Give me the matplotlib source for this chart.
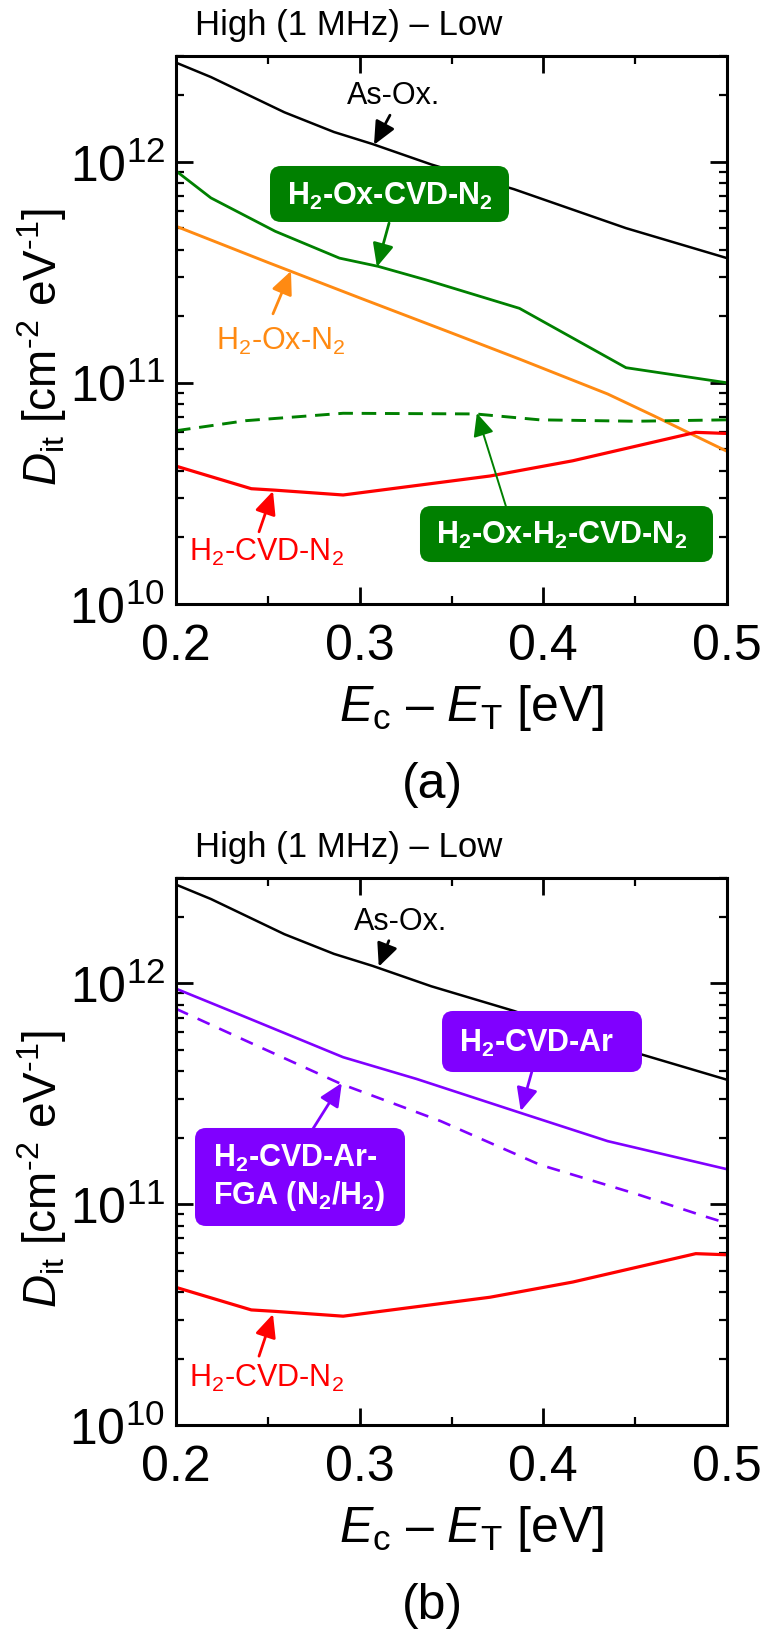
import matplotlib
matplotlib.use("Agg")
import matplotlib.pyplot as plt
from matplotlib.patches import FancyBboxPatch
from matplotlib.ticker import MultipleLocator, LogLocator, NullFormatter

plt.rcParams['font.family'] = ['Liberation Sans', 'DejaVu Sans']
plt.rcParams['mathtext.fontset'] = 'custom'
plt.rcParams['mathtext.rm'] = 'Liberation Sans'
plt.rcParams['mathtext.it'] = 'Liberation Sans:italic'
plt.rcParams['mathtext.bf'] = 'Liberation Sans:bold'

# ---- data (Ec - ET [eV], Dit [cm^-2 eV^-1]) ----
e_asox = [0.2, 0.219, 0.259, 0.286, 0.307, 0.339, 0.384, 0.445, 0.5]
dit_asox = [2.80e12, 2.41e12, 1.67e12, 1.36e12, 1.20e12, 9.7e11, 7.5e11, 5.0e11, 3.66e11]

e_h2ox_cvd = [0.2, 0.219, 0.254, 0.289, 0.310, 0.336, 0.387, 0.445, 0.5]
dit_h2ox_cvd = [9.07e11, 6.85e11, 4.84e11, 3.66e11, 3.36e11, 2.92e11, 2.17e11, 1.17e11, 1.0e11]

e_h2ox_n2 = [0.2, 0.25, 0.3, 0.35, 0.387, 0.435, 0.46, 0.5]
dit_h2ox_n2 = [5.1e11, 3.5e11, 2.42e11, 1.68e11, 1.28e11, 8.9e10, 7.1e10, 4.9e10]

e_h2ox_h2cvd = [0.2, 0.238, 0.291, 0.363, 0.398, 0.45, 0.5]
dit_h2ox_h2cvd = [6.07e10, 6.74e10, 7.28e10, 7.23e10, 6.8e10, 6.7e10, 6.8e10]

e_h2cvd_n2 = [0.2, 0.241, 0.254, 0.291, 0.371, 0.416, 0.483, 0.5]
dit_h2cvd_n2 = [4.2e10, 3.32e10, 3.27e10, 3.11e10, 3.79e10, 4.44e10, 5.97e10, 5.9e10]

e_h2cvd_ar = [0.2, 0.238, 0.291, 0.331, 0.387, 0.435, 0.5]
dit_h2cvd_ar = [9.46e11, 7.03e11, 4.63e11, 3.69e11, 2.60e11, 1.93e11, 1.44e11]

e_fga = [0.2, 0.238, 0.29, 0.344, 0.398, 0.451, 0.488, 0.5]
dit_fga = [7.67e11, 5.5e11, 3.5e11, 2.38e11, 1.51e11, 1.11e11, 8.8e10, 8.2e10]

GREEN = '#008000'
ORANGE = '#FF8A12'
RED = '#FF0000'
PURPLE = '#8000FF'


def style_axes(ax, tag, label_y):
    ax.set_yscale('log')
    ax.set_xlim(0.2, 0.5)
    ax.set_ylim(1e10, 3e12)
    ax.xaxis.set_major_locator(MultipleLocator(0.1))
    ax.xaxis.set_minor_locator(MultipleLocator(0.05))
    ax.yaxis.set_major_locator(LogLocator(base=10))
    ax.yaxis.set_minor_locator(LogLocator(base=10, subs=range(2, 10)))
    ax.yaxis.set_minor_formatter(NullFormatter())
    ax.tick_params(which='both', direction='in', top=True, right=True)
    ax.tick_params(which='major', length=12, width=2.0, labelsize=36)
    ax.tick_params(which='minor', length=6, width=1.6)
    ax.tick_params(axis='x', which='major', pad=14)
    ax.tick_params(axis='y', which='major', pad=8)
    for sp in ax.spines.values():
        sp.set_linewidth(2.2)

    ax.set_xlabel(r'$E_\mathrm{c}$ – $E_\mathrm{T}$ [eV]', fontsize=36, va='center')
    ax.xaxis.set_label_coords(0.537, -0.188)
    ax.set_ylabel(r'$D_\mathrm{it}$ [cm$^{\text{-}2}$ eV$^{\text{-}1}$]', fontsize=33, va='center')
    ax.yaxis.set_label_coords(-0.243, 0.47)

    ax.text(0.314, 1.058, 'High (1 MHz) – Low', transform=ax.transAxes,
            ha='center', va='center', fontsize=25)
    ax.figure.text(432 / 768, label_y, tag, ha='center', va='center', fontsize=36)


def arrow(ax, tail, head, color, lw=2.0):
    ax.annotate('', xy=head, xytext=tail,
                arrowprops=dict(arrowstyle='-|>,head_length=0.7,head_width=0.32',
                                color=color, lw=lw, mutation_scale=20,
                                shrinkA=0, shrinkB=0), zorder=6)


def label_box(ax, x0, y0, x1, y1, color):
    box = FancyBboxPatch((x0, y0), x1 - x0, y1 - y0, transform=ax.transAxes,
                         boxstyle='round,pad=0,rounding_size=0.02',
                         facecolor=color, edgecolor='none', zorder=5)
    ax.add_patch(box)


fig = plt.figure(figsize=(7.68, 16.33), dpi=100)
ax_a = fig.add_axes([176 / 768, 1 - 605 / 1633, 551 / 768, 548 / 1633])
ax_b = fig.add_axes([176 / 768, 1 - 1426 / 1633, 551 / 768, 547 / 1633])

# ---------------- (a) ----------------
ax_a.plot(e_asox, dit_asox, color='black', lw=1.8)
ax_a.plot(e_h2ox_cvd, dit_h2ox_cvd, color=GREEN, lw=2.0)
ax_a.plot(e_h2ox_n2, dit_h2ox_n2, color=ORANGE, lw=2.1)
ax_a.plot(e_h2ox_h2cvd, dit_h2ox_h2cvd, color=GREEN, lw=2.1, dashes=(5, 3))
ax_a.plot(e_h2cvd_n2, dit_h2cvd_n2, color=RED, lw=2.3)
style_axes(ax_a, '(a)', 1 - 785 / 1633)

ax_a.text(0.3187, 2.0e12, 'As-Ox.', ha='center', va='center', fontsize=22)
arrow(ax_a, (0.3165, 1.62e12), (0.3078, 1.19e12), 'black')

label_box(ax_a, 0.1706, 0.6971, 0.6044, 0.7993, GREEN)
ax_a.text(0.3876, 0.745, r'H$_\mathbf{2}$-Ox-CVD-N$_\mathbf{2}$', transform=ax_a.transAxes,
          ha='center', va='center', fontsize=22, fontweight='bold', color='white', zorder=7)
arrow(ax_a, (0.316, 5.27e11), (0.3094, 3.34e11), GREEN)

ax_a.text(0.2571, 1.55e11, r'H$_2$-Ox-N$_2$', ha='center', va='center', fontsize=22, color=ORANGE)
arrow(ax_a, (0.2528, 2.05e11), (0.2626, 3.2e11), ORANGE)

ax_a.text(0.249, 1.72e10, r'H$_2$-CVD-N$_2$', ha='center', va='center', fontsize=22, color=RED)
arrow(ax_a, (0.2452, 2.12e10), (0.2528, 3.24e10), RED)

label_box(ax_a, 0.4428, 0.0766, 0.9746, 0.1788, GREEN)
ax_a.text(0.699, 0.127, r'H$_\mathbf{2}$-Ox-H$_\mathbf{2}$-CVD-N$_\mathbf{2}$', transform=ax_a.transAxes,
          ha='center', va='center', fontsize=22, fontweight='bold', color='white', zorder=7)
arrow(ax_a, (0.3796, 2.77e10), (0.3638, 7.29e10), GREEN, lw=1.4)

# ---------------- (b) ----------------
ax_b.plot(e_asox, dit_asox, color='black', lw=1.8)
ax_b.plot(e_h2cvd_ar, dit_h2cvd_ar, color=PURPLE, lw=1.9)
ax_b.plot(e_fga, dit_fga, color=PURPLE, lw=1.9, dashes=(5, 4))
ax_b.plot(e_h2cvd_n2, dit_h2cvd_n2, color=RED, lw=2.3)
style_axes(ax_b, '(b)', 1 - 1606 / 1633)

ax_b.text(0.3224, 1.92e12, 'As-Ox.', ha='center', va='center', fontsize=22)
arrow(ax_b, (0.3159, 1.56e12), (0.3104, 1.19e12), 'black')

label_box(ax_b, 0.4828, 0.6453, 0.8457, 0.7569, PURPLE)
ax_b.text(0.6552, 0.700, r'H$_\mathbf{2}$-CVD-Ar', transform=ax_b.transAxes,
          ha='center', va='center', fontsize=22, fontweight='bold', color='white', zorder=7)
arrow(ax_b, (0.3937, 3.97e11), (0.3877, 2.64e11), PURPLE)

label_box(ax_b, 0.0345, 0.3638, 0.4156, 0.543, PURPLE)
ax_b.text(0.0672, 0.4534, 'H$_\\mathbf{2}$-CVD-Ar-\nFGA (N$_\\mathbf{2}$/H$_\\mathbf{2}$)',
          transform=ax_b.transAxes, ha='left', va='center', multialignment='left',
          fontsize=22, fontweight='bold', color='white', zorder=7)
arrow(ax_b, (0.2745, 2.19e11), (0.2903, 3.54e11), PURPLE)

ax_b.text(0.249, 1.64e10, r'H$_2$-CVD-N$_2$', ha='center', va='center', fontsize=22, color=RED)
arrow(ax_b, (0.2452, 2.05e10), (0.2528, 3.18e10), RED)

fig.savefig('out.png', dpi=100)
